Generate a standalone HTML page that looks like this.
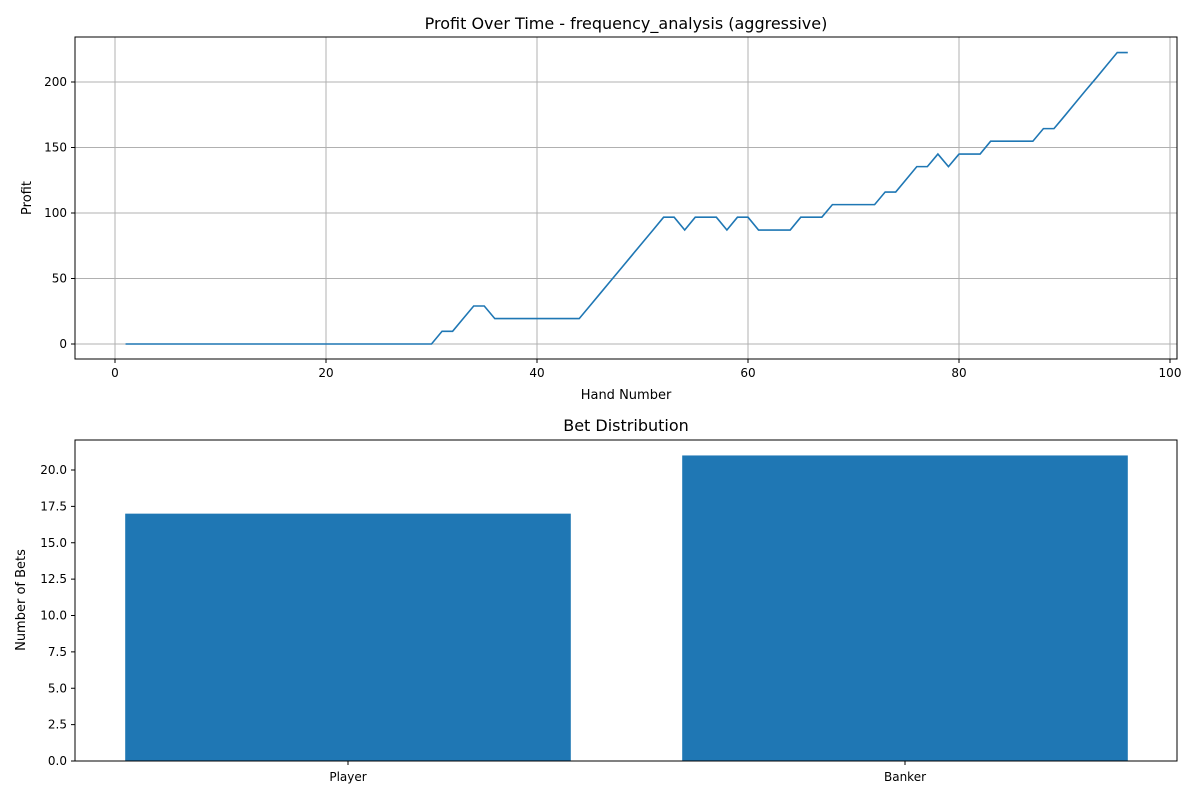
<!DOCTYPE html>
<html><head><meta charset="utf-8"><style>
body{margin:0;background:#fff;font-family:"Liberation Sans","DejaVu Sans",sans-serif}
svg text{font-family:"DejaVu Sans","Liberation Sans",sans-serif}
</style></head><body>
<svg id="c" width="1200" height="800"></svg>
<script>
const profit=[0,0,0,0,0,0,0,0,0,0,0,0,0,0,0,0,0,0,0,0,0,0,0,0,0,0,0,0,0,0,
9.7,9.7,19.4,29,29,19.4,19.4,19.4,19.4,19.4,19.4,19.4,19.4,19.4,
29,38.7,48.4,58,67.7,77.4,87,96.8,96.8,87,96.8,96.8,96.8,87,96.8,96.8,
87,87,87,87,96.8,96.8,96.8,106.4,106.4,106.4,106.4,106.4,116,116,125.7,135.4,135.4,145,135.4,145,
145,145,154.8,154.8,154.8,154.8,154.8,164.4,164.4,174,183.8,193.5,203,212.8,222.5,222.5];
const xTicks=[0,20,40,60,80,100];
const yTicks=[0,50,100,150,200];
const cats=["Player","Banker"];
const counts=[17,21];
const barTicks=[0,2.5,5,7.5,10,12.5,15,17.5,20];

const NS="http://www.w3.org/2000/svg",svg=document.getElementById('c');
function el(t,a,txt,p){const e=document.createElementNS(NS,t);for(const k in a)e.setAttribute(k,a[k]);if(txt!=null)e.textContent=txt;(p||svg).appendChild(e);return e;}

// top chart
const L=75,R=1177,T=37,B=359;
const xs=v=>115+(v-0)*(1170-115)/100;
const ys=v=>344-v*(344-82)/200;
const g1=el('g',{});


xTicks.forEach(t=>{const x=xs(t);
 const gl=el('line',{x1:x,x2:x,y1:T,y2:B,stroke:'#b0b0b0','stroke-width':1},null,g1);
 
 el('line',{x1:x,x2:x,y1:B,y2:B+4,stroke:'#000'},null,g1);
 const tx=el('text',{x:x,y:B+18,'font-size':12,'text-anchor':'middle'},String(t),g1);
 });
yTicks.forEach(t=>{const y=ys(t);
 const gl=el('line',{x1:L,x2:R,y1:y,y2:y,stroke:'#b0b0b0','stroke-width':1},null,g1);
 
 el('line',{x1:L-4,x2:L,y1:y,y2:y,stroke:'#000'},null,g1);
 const tx=el('text',{x:L-8,y:y+4,'font-size':12,'text-anchor':'end'},String(t),g1);
 });
const pts=profit.map((v,i)=>xs(i+1)+','+ys(v)).join(' ');
const pl=el('polyline',{points:pts,fill:'none',stroke:'#1f77b4','stroke-width':1.6},null,g1);

el('rect',{x:L,y:T,width:R-L,height:B-T,fill:'none',stroke:'#000','stroke-width':1},null,g1);
let t1=el('text',{x:626,y:29,'font-size':16,'text-anchor':'middle'},'Profit Over Time - frequency_analysis (aggressive)',g1);

let t2=el('text',{x:626,y:399,'font-size':13,'text-anchor':'middle'},'Hand Number',g1);

let t3=el('text',{x:31,y:198,'font-size':13,'text-anchor':'middle',transform:'rotate(-90 31 198)'},'Profit',g1);


// bottom chart
const T2=440,B2=761;
const bx=c=>348+c*(905-348);
const by=v=>761-v*(761-470)/20;
const g2=el('g',{});


barTicks.forEach(t=>{const y=by(t);
 el('line',{x1:L-4,x2:L,y1:y,y2:y,stroke:'#000'},null,g2);
 const tx=el('text',{x:L-8,y:y+4,'font-size':12,'text-anchor':'end'},t.toFixed(1),g2);
 });
cats.forEach((c,i)=>{const cx=bx(i),w=0.8*(905-348);
 const r=el('rect',{x:cx-w/2,y:by(counts[i]),width:w,height:by(0)-by(counts[i]),fill:'#1f77b4'},null,g2);
 
 el('line',{x1:cx,x2:cx,y1:B2,y2:B2+4,stroke:'#000'},null,g2);
 const tx=el('text',{x:cx,y:B2+20,'font-size':12,'text-anchor':'middle'},c,g2);
 });
el('rect',{x:L,y:T2,width:R-L,height:B2-T2,fill:'none',stroke:'#000','stroke-width':1},null,g2);
let t4=el('text',{x:626,y:431,'font-size':16,'text-anchor':'middle'},'Bet Distribution',g2);

let t5=el('text',{x:25,y:600,'font-size':13,'text-anchor':'middle',transform:'rotate(-90 25 600)'},'Number of Bets',g2);

</script>
</body></html>
